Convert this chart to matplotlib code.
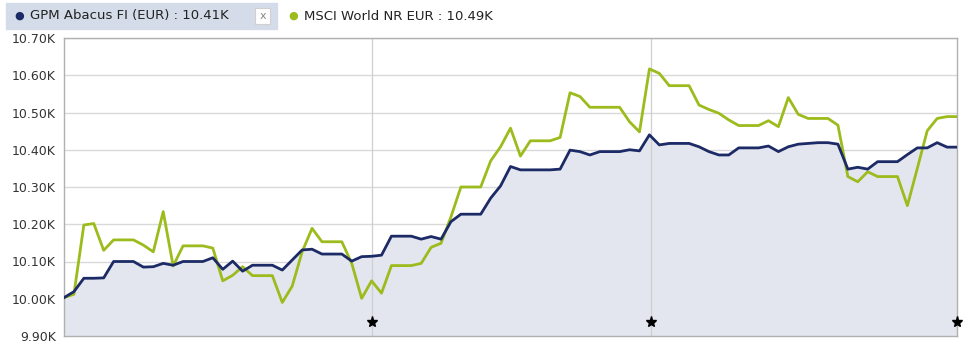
import matplotlib.pyplot as plt
from matplotlib.patches import Rectangle
from matplotlib.ticker import FuncFormatter

# Values (index = trading day)
fund_name = "GPM Abacus FI (EUR)"
bench_name = "MSCI World NR EUR"

fund = [10003, 10019, 10055, 10055, 10056, 10100, 10100, 10100, 10085, 10086,
        10095, 10090, 10100, 10100, 10100, 10110, 10079, 10101, 10074, 10090,
        10090, 10090, 10077, 10104, 10131, 10133, 10120, 10120, 10120, 10101,
        10113, 10114, 10117, 10168, 10168, 10168, 10160, 10167, 10160, 10207,
        10227, 10227, 10227, 10270, 10303, 10355, 10346, 10346, 10346, 10346,
        10348, 10399, 10395, 10386, 10395, 10395, 10395, 10400, 10397, 10440,
        10413, 10417, 10417, 10417, 10408, 10395, 10386, 10386, 10405, 10405,
        10405, 10410, 10395, 10408, 10415, 10417, 10419, 10419, 10415, 10348,
        10353, 10348, 10368, 10368, 10368, 10387, 10405, 10405, 10419, 10407,
        10407]

bench = [10003, 10012, 10198, 10202, 10130, 10158, 10158, 10158, 10144, 10126,
         10234, 10088, 10142, 10142, 10142, 10136, 10048, 10063, 10086, 10062,
         10062, 10062, 9990, 10034, 10126, 10189, 10153, 10153, 10153, 10095,
         10001, 10048, 10015, 10089, 10089, 10089, 10095, 10138, 10149, 10220,
         10300, 10300, 10300, 10370, 10408, 10458, 10383, 10424, 10424, 10424,
         10433, 10553, 10543, 10514, 10514, 10514, 10514, 10475, 10448, 10617,
         10605, 10572, 10572, 10572, 10520, 10508, 10498, 10480, 10465, 10465,
         10465, 10478, 10462, 10540, 10495, 10484, 10484, 10484, 10466, 10328,
         10314, 10341, 10328, 10328, 10328, 10250, 10350, 10451, 10484, 10489,
         10489]

# positions of the event stars (fractional day index)
star_pos = [31.05, 59.17, 90]

y_ticks = [9900, 10000, 10100, 10200, 10300, 10400, 10500, 10600, 10700]

navy = "#1c2a66"
green = "#9cbb1c"

fig = plt.figure(figsize=(9.67, 3.47), dpi=100)
W, H = 967, 347
ax = fig.add_axes([64 / W, 1 - 336 / H, (957 - 64) / W, (336 - 38) / H])

x = list(range(len(fund)))
ax.fill_between(x, fund, 9900, color="#e3e6ef", lw=0, zorder=1)
ax.plot(x, bench, color=green, lw=2.0, zorder=3)
ax.plot(x, fund, color=navy, lw=2.0, zorder=4)

for p in star_pos[:-1]:
    ax.axvline(p, color="#cfcfcf", lw=0.9, zorder=2)
ax.plot(star_pos, [9938] * len(star_pos), ls="none", marker="*",
        color="black", ms=8, zorder=5, clip_on=False)

ax.set_xlim(0, len(fund) - 1)
ax.set_ylim(9900, 10700)
ax.set_yticks(y_ticks)
ax.yaxis.set_major_formatter(FuncFormatter(lambda v, p: f"{v / 1000:.2f}K"))
ax.set_xticks([])
ax.tick_params(axis="y", length=0, pad=6, labelsize=9, labelcolor="#333333")
ax.grid(axis="y", color="#d9d9d9", lw=1.0, zorder=0)
ax.set_axisbelow(True)
for s in ax.spines.values():
    s.set_color("#b0b0b0")
    s.set_linewidth(1.0)

# legend strip at the top
fig.patches.append(Rectangle((6 / W, 1 - 29 / H), 271 / W, 26 / H,
                             transform=fig.transFigure, color="#d3dce8", zorder=0))
fig.patches.append(Rectangle((255 / W, 1 - 24 / H), 15 / W, 16 / H,
                             transform=fig.transFigure, facecolor="white",
                             edgecolor="#d0d0d0", lw=0.8, zorder=1))
fig.text(262.5 / W, 1 - 16 / H, "x", ha="center", va="center", fontsize=8,
         color="#888888")

ty = 1 - 16 / H
fig.text(19 / W, ty, "●", ha="center", va="center", fontsize=8, color=navy)
fig.text(30 / W, ty, f"{fund_name} : {fund[-1] / 1000:.2f}K", ha="left",
         va="center", fontsize=9.5, color="#222222")
fig.text(293 / W, ty, "●", ha="center", va="center", fontsize=8, color=green)
fig.text(304 / W, ty, f"{bench_name} : {bench[-1] / 1000:.2f}K", ha="left",
         va="center", fontsize=9.5, color="#222222")

fig.savefig("out.png", dpi=100)
